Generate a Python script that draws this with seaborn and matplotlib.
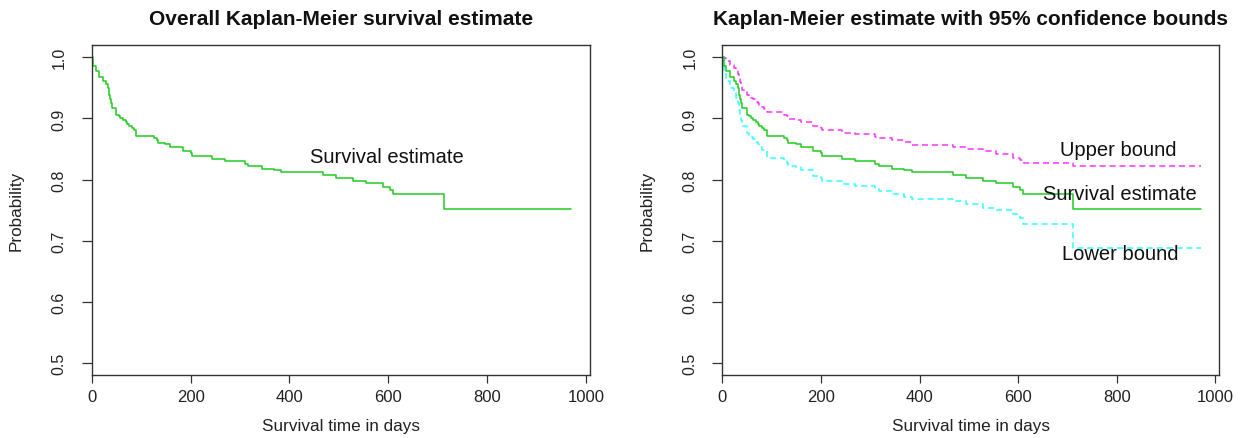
import matplotlib
matplotlib.use("Agg")
import matplotlib.pyplot as plt
import seaborn as sns
import pandas as pd

# ---- data ----
event_days = [0, 3, 8, 15, 23, 28, 32, 34, 36, 38, 40, 50, 55, 58, 63, 69, 72, 75, 81, 85, 90,
              126, 132, 134, 149, 159, 184, 200, 203, 243, 270, 310, 317, 344, 369, 384,
              468, 495, 529, 556, 589, 603, 610, 712]
survival = [1.0, .986, .978, .968, .962, .957, .950, .939, .932, .925, .917, .906, .904, .901, .898,
            .894, .891, .887, .884, .881, .872, .868, .865, .860, .858, .854, .846, .844, .839,
            .834, .831, .825, .823, .818, .816, .812, .807, .803, .798, .794, .788, .783, .777, .752]
upper = [1.0, .998, .994, .988, .983, .979, .973, .965, .959, .953, .946, .938, .936, .933, .931,
         .927, .925, .921, .919, .916, .910, .906, .904, .899, .897, .894, .887, .885, .881,
         .877, .875, .870, .868, .864, .861, .857, .854, .850, .846, .842, .836, .832, .828, .822]
lower = [1.0, .973, .962, .949, .941, .934, .926, .913, .905, .897, .888, .876, .873, .869, .866,
         .861, .858, .853, .849, .846, .835, .831, .827, .822, .820, .815, .806, .803, .797,
         .793, .790, .784, .781, .777, .772, .769, .765, .761, .754, .750, .744, .738, .728, .688]
last_day = 970

x_ticks = [0, 200, 400, 600, 800, 1000]
y_ticks = [0.5, 0.6, 0.7, 0.8, 0.9, 1.0]

titles = ["Overall Kaplan-Meier survival estimate",
          "Kaplan-Meier estimate with 95% confidence bounds"]
xlabel = "Survival time in days"
ylabel = "Probability"

# ---- styling ----
sns.set_theme(style="white")
plt.rcParams["font.family"] = ["Liberation Sans", "DejaVu Sans"]

GREEN = "#22cc22"
MAGENTA = "#ff33ff"
CYAN = "#33ffff"
TXT = "#111111"


def frame(values):
    return pd.DataFrame({"day": event_days + [last_day], "p": values + [values[-1]]})


df_s = frame(survival)
df_u = frame(upper)
df_l = frame(lower)

fig = plt.figure(figsize=(12.45, 4.39), dpi=100)
ax1 = fig.add_axes([0.0737, 0.1424, 0.4000, 0.7528])
ax2 = fig.add_axes([0.5802, 0.1424, 0.3992, 0.7528])

sns.lineplot(data=df_s, x="day", y="p", ax=ax1, estimator=None, sort=False,
             drawstyle="steps-post", color=GREEN, linewidth=1.1)

sns.lineplot(data=df_u, x="day", y="p", ax=ax2, estimator=None, sort=False,
             drawstyle="steps-post", color=MAGENTA, linewidth=1.1,
             linestyle=(0, (4, 2.5)))
sns.lineplot(data=df_l, x="day", y="p", ax=ax2, estimator=None, sort=False,
             drawstyle="steps-post", color=CYAN, linewidth=1.1,
             linestyle=(0, (4, 2.5)))
sns.lineplot(data=df_s, x="day", y="p", ax=ax2, estimator=None, sort=False,
             drawstyle="steps-post", color=GREEN, linewidth=1.1)

ANN = 14.5
ax1.text(597, 0.838, "Survival estimate", ha="center", va="center", fontsize=ANN, color=TXT)
ax2.text(802, 0.849, "Upper bound", ha="center", va="center", fontsize=ANN, color=TXT)
ax2.text(807, 0.778, "Survival estimate", ha="center", va="center", fontsize=ANN, color=TXT)
ax2.text(807, 0.679, "Lower bound", ha="center", va="center", fontsize=ANN, color=TXT)

for ax, title in zip([ax1, ax2], titles):
    ax.set_xlim(0, 1008)
    ax.set_ylim(0.48, 1.02)
    ax.set_xticks(x_ticks)
    ax.set_xticklabels([str(t) for t in x_ticks], fontsize=12)
    ax.set_yticks(y_ticks)
    ax.set_yticklabels([f"{t:.1f}" for t in y_ticks], fontsize=11.5, rotation=90, va="center")
    ax.tick_params(axis="both", direction="out", width=0.9, color="#333333",
                   bottom=True, left=True, labelcolor="#222222")
    ax.tick_params(axis="x", length=6, pad=4)
    ax.tick_params(axis="y", length=7, pad=11)
    for s in ax.spines.values():
        s.set_visible(True)
        s.set_color("#333333")
        s.set_linewidth(1.0)
    ax.set_xlabel(xlabel, fontsize=12.3, labelpad=10, color="#222222")
    ax.set_ylabel(ylabel, fontsize=12.3, labelpad=20, color="#222222")
    ax.set_title(title, fontsize=15, fontweight="bold", pad=15, color=TXT)
    ax.grid(False)

fig.savefig("out.png", dpi=100, facecolor="white")
